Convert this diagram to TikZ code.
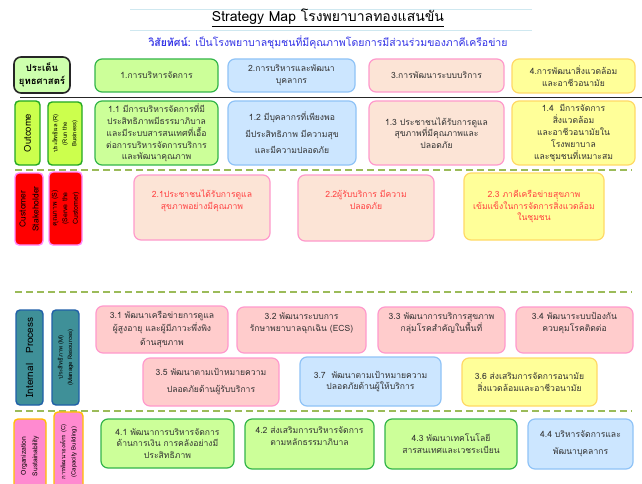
\documentclass[tikz,border=0pt]{standalone}
\usepackage{fontspec}
\setmainfont[Script=Thai]{Loma}
\definecolor{gfill}{HTML}{CCFF99}
\definecolor{gline}{HTML}{33B54A}
\definecolor{bfill}{HTML}{CCE6FF}
\definecolor{bline}{HTML}{8FC3F7}
\definecolor{pfill}{HTML}{FCE4D6}
\definecolor{pline}{HTML}{FF99CC}
\definecolor{rfill}{HTML}{FFCCCC}
\definecolor{yfill}{HTML}{FFFF99}
\definecolor{yline}{HTML}{FFD966}
\definecolor{limefill}{HTML}{CCFF4D}
\definecolor{limeline}{HTML}{22A822}
\definecolor{redfill}{HTML}{FF0000}
\definecolor{redline}{HTML}{FF88FF}
\definecolor{tealfill}{HTML}{3F9098}
\definecolor{tealline}{HTML}{1F5FA8}
\definecolor{orgfill}{HTML}{FF8AD0}
\definecolor{orgline}{HTML}{FFC000}
\definecolor{redtext}{HTML}{FF4040}
\definecolor{dashcol}{HTML}{9BBB59}
\definecolor{vision}{HTML}{3333E6}
\definecolor{faint}{HTML}{CFE8F0}
\tikzset{
  sbox/.style={draw, rounded corners=7pt, line width=1.2pt, align=center, inner sep=1pt,
    font=\fontsize{8.6}{11.8}\selectfont, text=black!80},
  gbox/.style={sbox, fill=gfill, draw=gline},
  bbox/.style={sbox, fill=bfill, draw=bline},
  pbox/.style={sbox, fill=pfill, draw=pline},
  rbox/.style={sbox, fill=rfill, draw=pline},
  ybox/.style={sbox, fill=yfill, draw=yline},
  side/.style={draw, rounded corners=4pt, line width=1.4pt, align=center, inner sep=0pt, rotate=90},
  limebox/.style={side, fill=limefill, draw=limeline},
  redbox/.style={side, fill=redfill, draw=redline},
  tealbox/.style={side, fill=tealfill, draw=tealline},
  orgbox/.style={side, fill=orgfill, draw=orgline},
  dashline/.style={draw=dashcol, line width=1.6pt, dash pattern=on 7pt off 4pt},
}
\begin{document}
\begin{tikzpicture}[x=1pt,y=-1pt]
\clip (0,0) rectangle (642,484);
\fill[white] (0,0) rectangle (642,484);

% faint top lines
\draw[faint, line width=0.8pt] (130,9) -- (532,9);
\draw[faint, line width=0.8pt] (130,30) -- (532,30);

% title
\node[font=\fontsize{14}{16}\selectfont] (title) at (328,18) {\underline{Strategy Map โรงพยาบาลทองแสนขัน}};
\node[font=\fontsize{10.5}{12}\selectfont, text=vision] (vis) at (328,42) {\textbf{วิสัยทัศน์:} เป็นโรงพยาบาลชุมชนที่มีคุณภาพโดยการมีส่วนร่วมของภาคีเครือข่าย};

% header row
\node[draw=black!85, fill=gfill!90!green!70!white, rounded corners=7pt, line width=1.6pt, align=center,
  minimum width=56, minimum height=36, inner sep=0pt, font=\bfseries\fontsize{9.5}{13}\selectfont] (strat) at (42,75) {ประเด็น\\ยุทธศาสตร์};
\node[gbox, minimum width=123, minimum height=33] (h1) at (156.5,75.5) {1.การบริหารจัดการ};
\node[bbox, minimum width=127, minimum height=33] (h2) at (291.5,75.5) {2.การบริหารและพัฒนา\\บุคลากร};
\node[pbox, minimum width=135, minimum height=33] (h3) at (436.5,75.5) {3.การพัฒนาระบบบริการ};
\node[ybox, minimum width=123, minimum height=34] (h4) at (573.5,76) {4.การพัฒนาสิ่งแวดล้อม\\และอาชีวอนามัย};

\coordinate (bl0) at (20,97.5);
\coordinate (bl1) at (642,97.5);
\draw[line width=1.8pt, black!85] (bl0) -- (bl1);

% outcome row
\node[limebox, minimum width=64, minimum height=25, font=\fontsize{9.5}{10}\selectfont] (out) at (27.5,133) {Outcome};
\node[limebox, minimum width=63, minimum height=34, font=\fontsize{6}{9.5}\selectfont] (run) at (65,133.5) {ประสิทธิผล (R)\\(Run the\\Business)};
\node[gbox, minimum width=123, minimum height=64] (o1) at (156.5,133) {1.1 มีการบริหารจัดการที่มี\\ประสิทธิภาพมีธรรมาภิบาล\\และมีระบบสารสนเทศที่เอื้อ\\ต่อการบริหารจัดการบริการ\\และพัฒนาคุณภาพ};
\node[bbox, minimum width=128, minimum height=64, font=\fontsize{8.6}{16.5}\selectfont] (o2) at (292,133) {1.2 มีบุคลากรที่เพียงพอ\\มีประสิทธิภาพ มีความสุข\\และมีความปลอดภัย};
\node[pbox, minimum width=135, minimum height=64] (o3) at (436.5,133) {1.3 ประชาชนได้รับการดูแล\\สุขภาพที่มีคุณภาพและ\\ปลอดภัย};
\node[ybox, minimum width=123, minimum height=64] (o4) at (573.5,133) {1.4\ \ มีการจัดการ\\สิ่งแวดล้อม\\และอาชีวอนามัยใน\\โรงพยาบาล\\และชุมชนที่เหมาะสม};

\coordinate (d1a) at (15,170);
\coordinate (d1b) at (632,170);
\draw[dashline] (d1a) -- (d1b);

% customer row
\node[redbox, minimum width=72, minimum height=28, font=\fontsize{8.5}{13}\selectfont] (cust) at (29,209) {Customer\\Stakeholder};
\node[redbox, minimum width=73, minimum height=33, font=\fontsize{7}{10.5}\selectfont] (serve) at (65.5,208.5) {คุณภาพ (S)\\(Serve the\\Customer)};
\node[pbox, minimum width=136, minimum height=65, text=redtext] (c1) at (202,207.5) {2.1ประชาชนได้รับการดูแล\\สุขภาพอย่างมีคุณภาพ\\[4pt]};
\node[pbox, minimum width=136, minimum height=66, text=redtext] (c2) at (366,208) {2.2ผู้รับบริการ มีความ\\ปลอดภัย\\[4pt]};
\node[ybox, minimum width=140, minimum height=67, text=redtext] (c3) at (534,206.5) {2.3 ภาคีเครือข่ายสุขภาพ\\เข้มแข็งในการจัดการสิ่งแวดล้อม\\ในชุมชน};

\coordinate (d2a) at (15,292);
\coordinate (d2b) at (632,292);
\draw[dashline] (d2a) -- (d2b);

% internal process row
\node[tealbox, minimum width=95, minimum height=27, font=\fontsize{10}{11}\selectfont] (ip) at (29.5,357.5) {Internal\ \ \ Process};
\node[tealbox, minimum width=95, minimum height=27, font=\fontsize{6}{9.5}\selectfont] (mr) at (65.5,357.5) {ประสิทธิภาพ (M)\\(Manage Resources)};
\node[rbox, minimum width=132, minimum height=47, font=\fontsize{8.6}{13.5}\selectfont] (p1) at (162,329.5) {3.1 พัฒนาเครือข่ายการดูแล\\ผู้สูงอายุ และผู้มีภาวะพึ่งพิง\\ด้านสุขภาพ};
\node[rbox, minimum width=129, minimum height=46] (p2) at (301.5,330) {3.2 พัฒนาระบบการ\\รักษาพยาบาลฉุกเฉิน (ECS)\\[4pt]};
\node[rbox, minimum width=127, minimum height=46] (p3) at (441.5,330) {3.3 พัฒนาการบริการสุขภาพ\\กลุ่มโรคสำคัญในพื้นที่\\[4pt]};
\node[rbox, minimum width=117, minimum height=46] (p4) at (574.5,330) {3.4 พัฒนาระบบป้องกัน\\ควบคุมโรคติดต่อ\\[4pt]};
\node[rbox, minimum width=136, minimum height=48, font=\fontsize{8.6}{17}\selectfont] (p5) at (211,382) {3.5 พัฒนาตามเป้าหมายความ\\ปลอดภัยด้านผู้รับบริการ};
\node[bbox, minimum width=141, minimum height=49] (p7) at (370.5,381.5) {3.7\ \ พัฒนาตามเป้าหมายความ\\ปลอดภัยด้านผู้ให้บริการ};
\node[ybox, minimum width=135, minimum height=48] (p6) at (529.5,382) {3.6 ส่งเสริมการจัดการอนามัย\\สิ่งแวดล้อมและอาชีวอนามัย};

\coordinate (d3a) at (15,411);
\coordinate (d3b) at (632,411);
\draw[dashline] (d3a) -- (d3b);

% organization row
\node[orgbox, minimum width=74, minimum height=32, font=\fontsize{6.8}{11.5}\selectfont] (os) at (30,456) {Organization\\Sustainability};
\node[orgbox, minimum width=80, minimum height=29, font=\fontsize{6}{10}\selectfont] (cb) at (68.5,452) {การพัฒนาองค์กร (C)\\(Capacity Building)};
\node[gbox, minimum width=133, minimum height=49] (g1) at (167.5,443.5) {4.1 พัฒนาการบริหารจัดการ\\ด้านการเงิน การคลังอย่างมี\\ประสิทธิภาพ};
\node[gbox, minimum width=129, minimum height=50] (g2) at (309.5,444) {4.2 ส่งเสริมการบริหารจัดการ\\ตามหลักธรรมาภิบาล\\[4pt]};
\node[gbox, minimum width=132, minimum height=50] (g3) at (451,444) {4.3 พัฒนาเทคโนโลยี\\สารสนเทศและเวชระเบียน};
\node[bbox, minimum width=105, minimum height=50, font=\fontsize{8.6}{17}\selectfont] (g4) at (580.5,444) {4.4 บริหารจัดการและ\\พัฒนาบุคลากร};
\end{tikzpicture}
\end{document}
